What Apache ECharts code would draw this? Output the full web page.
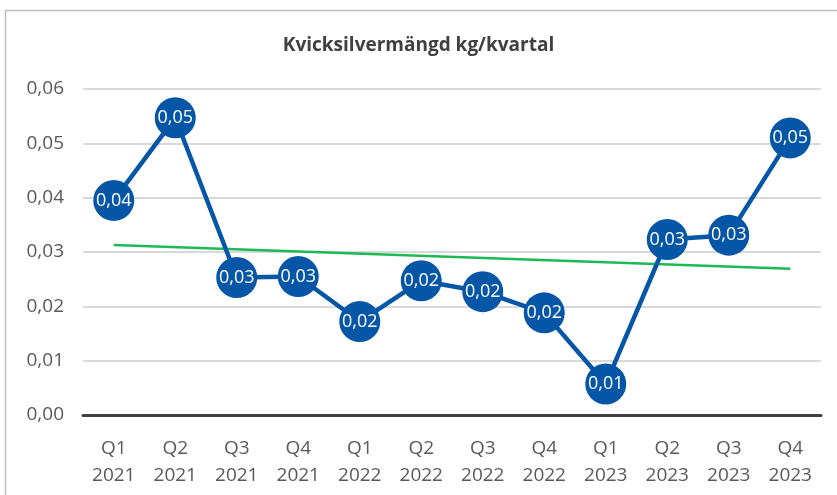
<!DOCTYPE html>
<html>
<head>
<meta charset="utf-8">
<script src="https://cdn.jsdelivr.net/npm/echarts@6/dist/echarts.min.js"></script>
<style>
  html, body { margin: 0; padding: 0; background: #fff; }
  #chart { width: 837px; height: 495px; }
</style>
</head>
<body>
<div id="chart"></div>
<script>
// kvartal och värden
var quarters = ['Q1\n2021', 'Q2\n2021', 'Q3\n2021', 'Q4\n2021', 'Q1\n2022', 'Q2\n2022',
    'Q3\n2022', 'Q4\n2022', 'Q1\n2023', 'Q2\n2023', 'Q3\n2023', 'Q4\n2023'];
var amounts = [0.0395, 0.0547, 0.0253, 0.0255, 0.0172, 0.0247, 0.0227, 0.0188, 0.0057, 0.0323, 0.0331, 0.0510];
// trendlinje, bara start och slut
var trend = [0.0313, null, null, null, null, null, null, null, null, null, null, 0.0269];

function fmt(v, d) {
    return v.toFixed(d).replace('.', ',');
}

var chart = echarts.init(document.getElementById('chart'));
var option = {
    animation: false,
    graphic: [{
        type: 'rect',
        shape: { x: 5.5, y: 10.5, width: 840, height: 500 },
        style: { fill: 'none', stroke: '#bfbfbf', lineWidth: 1.5 },
        silent: true
    }],
    title: {
        text: 'Kvicksilvermängd kg/kvartal',
        left: 'center',
        top: 31,
        textStyle: {
            fontFamily: 'Open Sans',
            fontSize: 19,
            fontWeight: 'bold',
            color: '#404040'
        }
    },
    grid: { left: 83, right: 16, top: 89, bottom: 80 },
    xAxis: {
        type: 'category',
        data: quarters,
        axisLine: { lineStyle: { color: '#404040', width: 3 } },
        axisTick: { show: false },
        axisLabel: {
            color: '#595959',
            fontFamily: 'Open Sans',
            fontSize: 19,
            lineHeight: 27,
            margin: 20
        }
    },
    yAxis: {
        type: 'value',
        min: 0,
        max: 0.06,
        interval: 0.01,
        axisLine: { show: false },
        axisTick: { show: false },
        splitLine: { lineStyle: { color: '#d9d9d9', width: 2 } },
        axisLabel: {
            color: '#595959',
            fontFamily: 'Open Sans',
            fontSize: 19,
            margin: 19,
            formatter: function (v) { return fmt(v, 2); }
        }
    },
    series: [{
        type: 'line',
        data: trend,
        connectNulls: true,
        symbol: 'none',
        lineStyle: { color: '#1db954', width: 2.5 },
        z: 1
    }, {
        type: 'line',
        data: amounts,
        symbol: 'circle',
        symbolSize: 41,
        lineStyle: { color: '#0656a8', width: 4.5 },
        itemStyle: { color: '#0656a8' },
        label: {
            show: true,
            position: 'inside',
            color: '#ffffff',
            fontFamily: 'Open Sans',
            fontSize: 18,
            formatter: function (p) { return fmt(p.value, 2); }
        },
        z: 3
    }]
};
chart.setOption(option);
</script>
</body>
</html>
